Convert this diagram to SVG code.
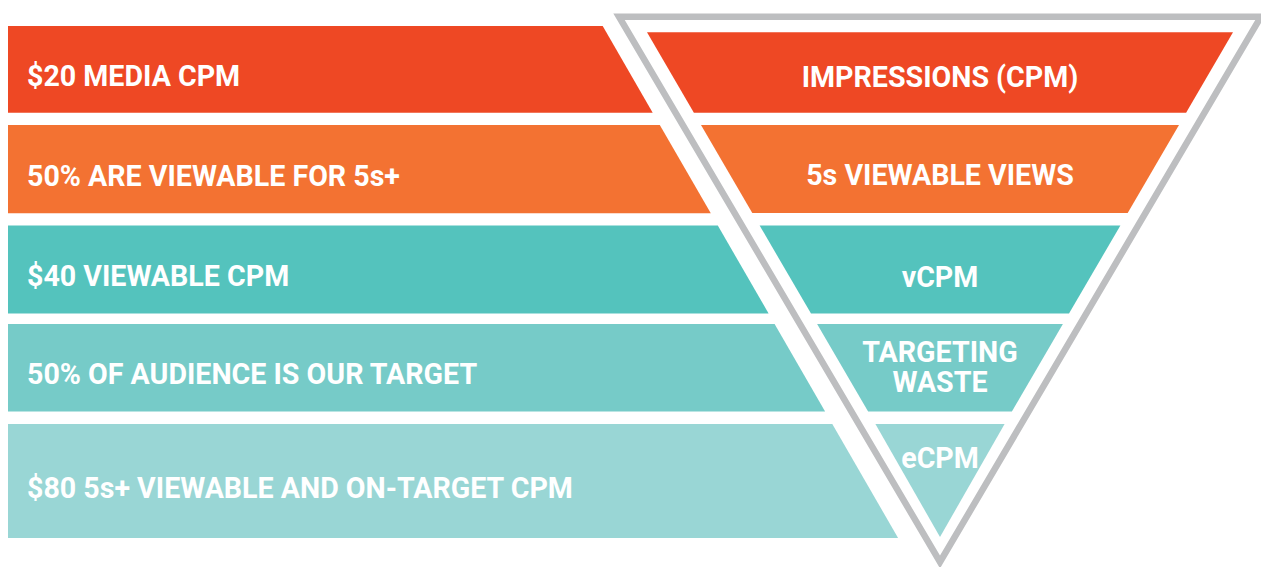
<svg xmlns="http://www.w3.org/2000/svg" width="1261" height="567" viewBox="0 0 1261 567">
<style>
.lbl{font-family:Roboto,"Liberation Sans",sans-serif;font-weight:700;font-size:28.6px;fill:#ffffff}
.mid{text-anchor:middle}
.c1{fill:#EE4824}.c2{fill:#F37232}.c3{fill:#54C3BD}.c4{fill:#76CBC8}.c5{fill:#99D6D5}
.outline{fill:none;stroke:#BDBEC0;stroke-width:6.5;stroke-linejoin:miter;stroke-miterlimit:10}
</style>
<rect width="1261" height="567" fill="#ffffff"/>
<g id="left-1"><polygon class="c1" points="8,26 602.7,26 652.7,112.7 8,112.7"/><text class="lbl" x="27" y="86">$20 MEDIA CPM</text></g>
<g id="left-2"><polygon class="c2" points="8,125 659.8,125 710.8,213.3 8,213.3"/><text class="lbl" x="27" y="186">50% ARE VIEWABLE FOR 5s+</text></g>
<g id="left-3"><polygon class="c3" points="8,225.5 717.8,225.5 768.6,313.5 8,313.5"/><text class="lbl" x="27" y="286">$40 VIEWABLE CPM</text></g>
<g id="left-4"><polygon class="c4" points="8,324 774.6,324 825.1,411.5 8,411.5"/><text class="lbl" x="27" y="384">50% OF AUDIENCE IS OUR TARGET</text></g>
<g id="left-5"><polygon class="c5" points="8,424 832.3,424 898.1,538 8,538"/><text class="lbl" x="27" y="498">$80 5s+ VIEWABLE AND ON-TARGET CPM</text></g>
<g id="funnel-outline"><polygon class="outline" points="619,16.7 1261,16.7 940,562"/></g>
<g id="right-1"><polygon class="c1" points="647,32.3 1233,32.3 1186.1,112.7 693.9,112.7"/><text class="lbl mid" x="940" y="87">IMPRESSIONS (CPM)</text></g>
<g id="right-2"><polygon class="c2" points="701,125 1179,125 1127.7,213 752.3,213"/><text class="lbl mid" x="940" y="185">5s VIEWABLE VIEWS</text></g>
<g id="right-3"><polygon class="c3" points="759.6,225.5 1120.4,225.5 1069,313.5 811,313.5"/><text class="lbl mid" x="940" y="287">vCPM</text></g>
<g id="right-4"><polygon class="c4" points="817.1,324 1062.9,324 1011.9,411.5 868.1,411.5"/><text class="lbl mid" x="940" y="362">TARGETING</text><text class="lbl mid" x="940" y="392">WASTE</text></g>
<g id="right-5"><polygon class="c5" points="875.4,424 1004.6,424 940,537"/><text class="lbl mid" x="940" y="468.3">eCPM</text></g>
<g id="connectors"/>
</svg>
